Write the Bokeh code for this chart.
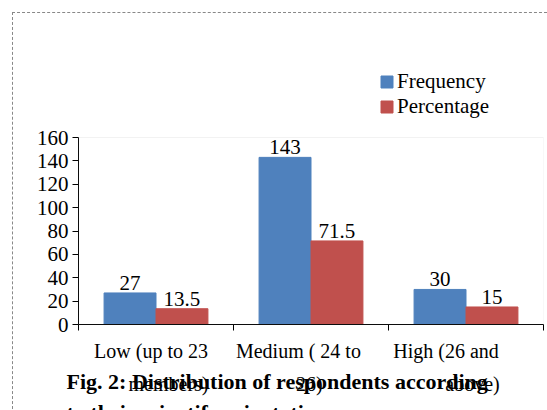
from bokeh.plotting import figure
from bokeh.models import (ColumnDataSource, Range1d, FixedTicker, Legend, LegendItem,
                          LinearAxis, Title, BoxAnnotation)
from bokeh.transform import dodge
from bokeh.core.properties import value
from bokeh.embed import file_html
from bokeh.resources import INLINE

categories = ["Low (up to 23 members)", "Medium ( 24 to 26)", "High (26 and above)"]
cat_line1 = ["Low (up to 23", "Medium ( 24 to", "High (26 and"]
cat_line2 = ["members)", "26)", "above)"]
frequency = [27, 143, 30]
percentage = [13.5, 71.5, 15]
freq_labels = ["27", "143", "30"]
pct_labels = ["13.5", "71.5", "15"]
y_ticks = [0, 20, 40, 60, 80, 100, 120, 140, 160]
series_names = ["Frequency", "Percentage"]
caption = ["Fig. 2: Distribution of respondents according", "to their scientifc orientation"]

FONT = "Liberation Serif"
BLUE = "#4F81BD"
RED = "#C0504D"
Y_MAX = 160
# label anchor shifts (layout only), in category widths
line1_shift = [-0.032, -0.081, -0.129]
line2_shift = [0.081, -0.010, 0.042]

xc = [i + 0.5 for i in range(len(categories))]
pos1 = [c + s for c, s in zip(xc, line1_shift)]
pos2 = [c + s for c, s in zip(xc, line2_shift)]
src = ColumnDataSource(dict(x=xc, freq=frequency, pct=percentage,
                            fl=freq_labels, pl=pct_labels))

# frame spans to the top of the canvas; the plot area proper ends at Y_MAX
p = figure(width=535, height=412, output_backend="svg", toolbar_location=None,
           x_range=Range1d(0, 3), y_range=Range1d(0, Y_MAX * 311 / 187),
           min_border_left=65, min_border_right=5, min_border_top=0, min_border_bottom=101,
           x_axis_location=None)
p.margin = (12, 0, 0, 12)
p.styles = {"border-left": "1px dashed #888888", "border-top": "1px dashed #888888",
            "border-right": "none", "border-bottom": "none"}
p.background_fill_color = "white"
p.border_fill_color = "white"
p.grid.visible = False
p.outline_line_color = None

p.add_layout(BoxAnnotation(left=0, right=3, bottom=0, top=Y_MAX, fill_alpha=0,
                           line_color="#aaaaaa", line_dash="1 1", line_width=1))

bw = 0.335
r1 = p.vbar(x=dodge("x", -bw / 2, range=p.x_range), top="freq", width=bw, bottom=0,
            source=src, fill_color=BLUE, line_color=BLUE)
r2 = p.vbar(x=dodge("x", bw / 2, range=p.x_range), top="pct", width=bw, bottom=0,
            source=src, fill_color=RED, line_color=RED)

p.text(x=dodge("x", -bw / 2, range=p.x_range), y="freq", text="fl", source=src,
       text_font=value(FONT), text_font_size="21px", text_align="center",
       text_baseline="bottom", y_offset=-3, text_color="black")
p.text(x=dodge("x", bw / 2, range=p.x_range), y="pct", text="pl", source=src,
       text_font=value(FONT), text_font_size="21px", text_align="center",
       text_baseline="bottom", y_offset=-3, text_color="black")


def label_axis(positions, texts, standoff):
    ax = LinearAxis(ticker=FixedTicker(ticks=positions))
    ax.major_label_overrides = {x: t for x, t in zip(positions, texts)}
    ax.major_label_text_font = FONT
    ax.major_label_text_font_size = "20px"
    ax.major_label_text_color = "black"
    ax.major_label_standoff = standoff
    ax.major_tick_in = 0
    ax.major_tick_out = 0
    ax.minor_tick_line_color = None
    ax.axis_line_color = None
    ax.major_tick_line_color = None
    return ax


def caption_title(text, standoff):
    return Title(text=text, align="left", offset=-12, standoff=standoff,
                 text_font=FONT, text_font_size="22px", text_font_style="bold",
                 text_color="black")


# x axis with boundary ticks
xa = LinearAxis(ticker=FixedTicker(ticks=[0, 1, 2, 3]))
xa.major_label_text_font_size = "0px"
xa.major_label_standoff = 0
xa.major_tick_in = 0
xa.major_tick_out = 6
xa.minor_tick_line_color = None
xa.axis_line_color = "black"
xa.major_tick_line_color = "black"
p.add_layout(xa, "below")

# below panels, stacked outward: labels line 1, caption line 1,
# labels line 2 (pulled up to overlap the caption), caption line 2
p.add_layout(label_axis(pos1, cat_line1, 9), "below")
p.add_layout(caption_title(caption[0], 5), "below")
p.add_layout(label_axis(pos2, cat_line2, -24), "below")
p.add_layout(caption_title(caption[1], 0), "below")

ya = p.yaxis[0]
ya.ticker = FixedTicker(ticks=y_ticks)
ya.bounds = (0, Y_MAX)
ya.major_label_text_font = FONT
ya.major_label_text_font_size = "21px"
ya.major_label_text_color = "black"
ya.major_tick_in = 0
ya.major_tick_out = 6
ya.minor_tick_line_color = None
ya.axis_line_color = "black"
ya.major_tick_line_color = "black"
ya.major_label_standoff = 4

legend = Legend(items=[LegendItem(label=n, renderers=[r]) for n, r in zip(series_names, [r1, r2])],
                location=(301, 205), label_text_font=FONT, label_text_font_size="21px",
                glyph_width=15, glyph_height=15, label_height=15, spacing=0,
                label_standoff=3, padding=0, margin=0, border_line_color=None,
                background_fill_alpha=0, label_text_color="black")
p.add_layout(legend, "center")

html = file_html(p, INLINE)
html = html.replace("<head>", "<head><style>html,body{overflow:hidden;margin:0;}</style>", 1)
open("out.html", "w").write(html)
